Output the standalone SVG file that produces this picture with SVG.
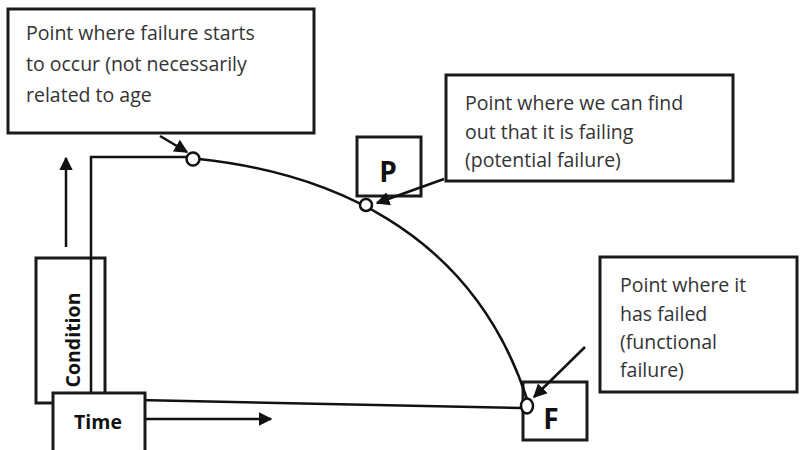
<svg xmlns="http://www.w3.org/2000/svg" width="801" height="450" viewBox="0 0 801 450">
<defs>
<style>
.box{fill:#fff;stroke:#1a1a1a;stroke-width:3}
.lbl{font-family:"Open Sans","Liberation Sans",Arial,sans-serif;font-size:19.5px;fill:#333}
.big{font-family:"Open Sans","Liberation Sans",Arial,sans-serif;font-weight:bold;fill:#111}
.ln{fill:none;stroke:#111;stroke-width:2.5}
.pt{fill:#fff;stroke:#111;stroke-width:2.5}
</style>
<marker id="ah" viewBox="0 0 10 10" refX="9" refY="5" markerWidth="5.5" markerHeight="5.5" orient="auto" markerUnits="strokeWidth">
<path d="M0,0 L10,5 L0,10 z" fill="#111"/>
</marker>
</defs>
<rect width="801" height="450" fill="#fff"/>

<g id="note-start">
<rect class="box" x="8" y="9" width="306" height="124"/>
<text class="lbl" x="26" y="40">Point where failure starts</text>
<text class="lbl" x="26" y="71">to occur (not necessarily</text>
<text class="lbl" x="26" y="102">related to age</text>
</g>

<g id="note-p">
<rect class="box" x="446" y="75" width="287" height="106"/>
<text class="lbl" x="465" y="110">Point where we can find</text>
<text class="lbl" x="465" y="139">out that it is failing</text>
<text class="lbl" x="465" y="167">(potential failure)</text>
</g>

<g id="note-f">
<rect class="box" x="600" y="257" width="197" height="135"/>
<text class="lbl" x="620" y="292">Point where it</text>
<text class="lbl" x="620" y="321">has failed</text>
<text class="lbl" x="620" y="349">(functional</text>
<text class="lbl" x="620" y="377">failure)</text>
</g>

<g id="p-box">
<rect class="box" x="357" y="137" width="64" height="59"/>
<text class="big" x="388" y="182" font-size="28" text-anchor="middle">P</text>
</g>

<g id="f-box">
<rect class="box" x="523" y="382" width="64" height="58"/>
<text class="big" x="551" y="429" font-size="28" text-anchor="middle">F</text>
</g>

<g id="condition-axis">
<rect fill="none" stroke="#1a1a1a" stroke-width="3" x="36" y="258" width="69" height="145"/>
<text class="big" font-size="19.5" text-anchor="middle" transform="translate(80,340) rotate(-90)">Condition</text>
</g>

<g id="connectors">
<path class="ln" d="M91,399 L91,157 L187,157"/>
<path class="ln" d="M199,159 C320,172 470,225 527,399"/>
<path class="ln" d="M91,399 L521,408"/>
<line class="ln" x1="66" y1="247" x2="66" y2="158" marker-end="url(#ah)"/>
<line class="ln" x1="140" y1="419" x2="271" y2="419" marker-end="url(#ah)"/>
<line class="ln" x1="160" y1="136" x2="187" y2="152" marker-end="url(#ah)"/>
<line class="ln" x1="444" y1="179" x2="377" y2="203" marker-end="url(#ah)"/>
<line class="ln" x1="585" y1="347" x2="534" y2="397" marker-end="url(#ah)"/>
</g>

<g id="time-axis">
<rect class="box" x="53" y="393" width="92" height="60"/>
<text class="big" x="98" y="429" font-size="19.5" text-anchor="middle">Time</text>
</g>

<g id="points">
<circle class="pt" cx="193" cy="159" r="6.5"/>
<circle class="pt" cx="366" cy="205" r="6"/>
<ellipse class="pt" cx="527" cy="406" rx="6" ry="7.5"/>
</g>
</svg>
